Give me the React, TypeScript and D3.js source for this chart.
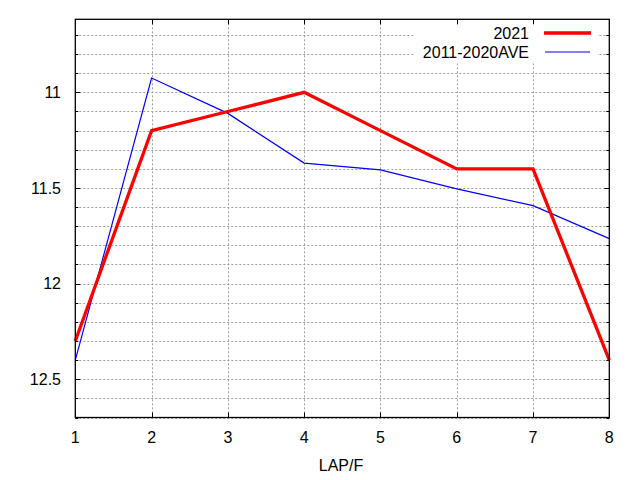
import React from "react";
import * as d3 from "d3";

const laps = [1, 2, 3, 4, 5, 6, 7, 8];
const series2021 = [12.3, 11.2, 11.1, 11.0, 11.2, 11.4, 11.4, 12.4];
const seriesAve = [12.4, 10.925, 11.11, 11.37, 11.405, 11.505, 11.592, 11.765];
const yMajorTicks = [11, 11.5, 12, 12.5];
const yMinorTicks = [10.7, 10.8, 10.9, 11, 11.1, 11.2, 11.3, 11.4, 11.5, 11.6, 11.7, 11.8, 11.9, 12, 12.1, 12.2, 12.3, 12.4, 12.5, 12.6, 12.7];
const legendLabels = ["2021", "2011-2020AVE"];
const xLabel = "LAP/F";

export default function App() {
  const W = 640, H = 480;
  const left = 75.3, right = 609.3, top = 19.3, bottom = 417.5;
  const x = d3.scaleLinear().domain([1, 8]).range([left, right]);
  const y = d3.scaleLinear().domain([10.618, 12.7]).range([top, bottom]);
  const line = d3.line<number>().x((_, i) => x(laps[i])).y((d) => y(d));
  const font = "'Liberation Sans', Arial, sans-serif";
  const grid = { stroke: "#a0a0a0", strokeWidth: 1, strokeDasharray: "2,2" };
  const legendX0 = 415, legendX1 = 597;
  return (
    <svg width={W} height={H} style={{ position: "fixed", left: 0, top: 0, background: "#fff" }} fontFamily={font}>
      <rect x={0} y={0} width={W} height={H} fill="#fff" />
      {yMinorTicks.map((t) => (
        <line key={"hg" + t} x1={left} x2={right} y1={Math.round(y(t)) + 0.5} y2={Math.round(y(t)) + 0.5} {...grid} />
      ))}
      {laps.slice(1, -1).map((t) => (
        <line key={"vg" + t} x1={Math.round(x(t)) + 0.5} x2={Math.round(x(t)) + 0.5} y1={top} y2={bottom} {...grid} />
      ))}
      <rect x={legendX0} y={top + 1} width={legendX1 - legendX0} height={43} fill="#fff" />
      {yMinorTicks.map((t) => {
        const major = yMajorTicks.some((m) => Math.abs(m - t) < 1e-6);
        const len = major ? 5 : 3;
        const yy = Math.round(y(t)) + 0.5;
        return (
          <g key={"yt" + t}>
            <line x1={left} x2={left + len} y1={yy} y2={yy} stroke="#000" />
            <line x1={right} x2={right - len} y1={yy} y2={yy} stroke="#000" />
          </g>
        );
      })}
      {laps.map((t) => {
        const xx = Math.round(x(t)) + 0.5;
        return (
          <g key={"xt" + t}>
            <line x1={xx} x2={xx} y1={bottom} y2={bottom - 5} stroke="#000" />
            <line x1={xx} x2={xx} y1={top} y2={top + 5} stroke="#000" />
            <text x={x(t)} y={443} textAnchor="middle" fontSize={16} fill="#000">{t}</text>
          </g>
        );
      })}
      {yMajorTicks.map((t) => (
        <text key={"yl" + t} x={61} y={y(t) + 5.7} textAnchor="end" fontSize={16} fill="#000">{t}</text>
      ))}
      <path d={line(seriesAve) || ""} fill="none" stroke="#0000ff" strokeWidth={1.2} />
      <path d={line(series2021) || ""} fill="none" stroke="#ff0000" strokeWidth={3.3} />
      <rect x={left} y={top} width={right - left} height={bottom - top} fill="none" stroke="#000" strokeWidth={1.3} />
      <text x={529} y={33 + 5.7} textAnchor="end" fontSize={16} fill="#000">{legendLabels[0]}</text>
      <line x1={544} x2={591} y1={33} y2={33} stroke="#ff0000" strokeWidth={3.3} />
      <text x={529} y={52 + 5.7} textAnchor="end" fontSize={16} fill="#000">{legendLabels[1]}</text>
      <line x1={545} x2={590} y1={52} y2={52} stroke="#0000ff" strokeWidth={1.2} />
      <text x={341} y={470.7} textAnchor="middle" fontSize={16} fill="#000">{xLabel}</text>
    </svg>
  );
}
